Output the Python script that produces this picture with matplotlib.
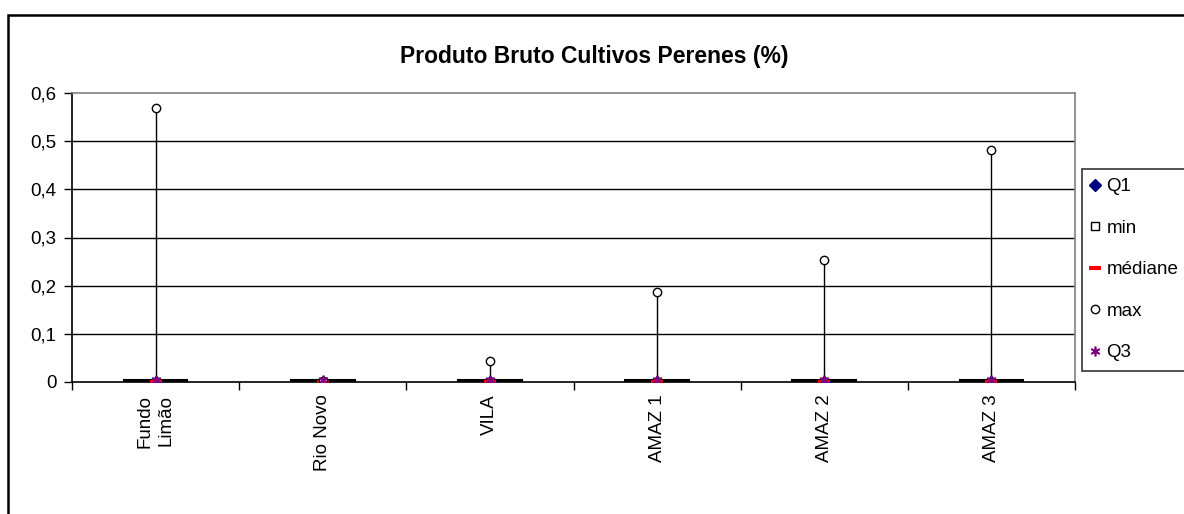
import matplotlib.pyplot as plt
import matplotlib.patches as patches
import numpy as np

plt.rcParams['font.family'] = ['Liberation Sans', 'DejaVu Sans']

categories = ['Fundo\nLimão', 'Rio Novo', 'VILA', 'AMAZ 1', 'AMAZ 2', 'AMAZ 3']
q1 = [0.0, 0.0, 0.0, 0.0, 0.0, 0.0]
mins = [0.0, 0.0, 0.0, 0.0, 0.0, 0.0]
medians = [0.001, 0.001, 0.001, 0.001, 0.001, 0.001]
maxs = [0.568, 0.003, 0.043, 0.186, 0.254, 0.481]
q3 = [0.005, 0.005, 0.005, 0.005, 0.005, 0.005]
yticks = [0, 0.1, 0.2, 0.3, 0.4, 0.5, 0.6]
ytick_labels = ['0', '0,1', '0,2', '0,3', '0,4', '0,5', '0,6']

fig = plt.figure(figsize=(11.84, 5.14), dpi=100)
ax = fig.add_axes([72 / 1184, 1 - 382 / 514, 1003 / 1184, 289 / 514])

x = np.arange(len(categories))

# grid lines
for v in yticks[1:-1]:
    ax.axhline(v, color='black', lw=1.0, zorder=1)

# whiskers
ax.vlines(x, mins, maxs, color='black', lw=1.0, zorder=2)

# box (up-down bars)
ax.bar(x, np.array(q3) - np.array(q1), bottom=q1, width=0.38,
       color='black', edgecolor='black', lw=1.5, zorder=3)

ax.plot(x, q1, ls='none', marker='D', ms=6, color='#000080', label='Q1', zorder=4)
ax.plot(x, mins, ls='none', marker='s', ms=6, mfc='white', mec='black', mew=1.0,
        label='min', zorder=4)
ax.plot(x, medians, ls='none', marker='_', ms=9, mew=3, color='red', label='médiane',
        zorder=5)
ax.plot(x, maxs, ls='none', marker='o', ms=6, mfc='white', mec='black', mew=1.0,
        label='max', zorder=5)
ax.plot(x, q3, ls='none', marker=(6, 2, 0), ms=7, mew=1.2, color='#800080',
        label='Q3', zorder=6)

ax.set_xlim(-0.5, len(categories) - 0.5)
ax.set_ylim(0, 0.6)
ax.set_yticks(yticks)
ax.set_yticklabels(ytick_labels, fontsize=13.5)
ax.set_xticks(np.arange(len(categories) + 1) - 0.5)
ax.set_xticklabels([])
ax.set_xticks(x, minor=True)
ax.set_xticklabels(categories, minor=True, rotation=90, fontsize=13.5,
                   va='top', ha='center', multialignment='right',
                   linespacing=1.25)
ax.tick_params(axis='x', which='minor', length=0, pad=9)
ax.tick_params(axis='x', which='major', direction='out', length=6, width=1)
ax.tick_params(axis='y', direction='out', length=6, width=1, pad=5)

ax.spines['top'].set_color('#808080')
ax.spines['right'].set_color('#808080')
ax.spines['left'].set_color('black')
ax.spines['bottom'].set_color('black')
for s in ax.spines.values():
    s.set_linewidth(1.2)

fig.text(594 / 1184, 1 - 56 / 514, 'Produto Bruto Cultivos Perenes (%)', ha='center',
         va='center', fontsize=16.5, fontweight='bold')

leg = fig.legend(loc='upper left', bbox_to_anchor=(1082 / 1184, 1 - 169 / 514),
                 fontsize=13.5, frameon=True, fancybox=False, edgecolor='black',
                 handlelength=0.4, handletextpad=0.4, labelspacing=1.3,
                 borderpad=0.5, borderaxespad=0)
leg.get_frame().set_linewidth(1.2)

# chart border
fig.patches.append(patches.Rectangle((8 / 1184, -0.1), 2, 1 - 15 / 514 + 0.1,
                                     transform=fig.transFigure, fill=False,
                                     edgecolor='black', lw=1.8))

fig.savefig('out.png', dpi=100)
